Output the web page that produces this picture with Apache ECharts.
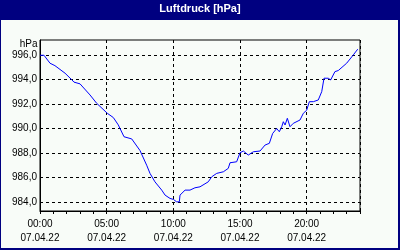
<!DOCTYPE html>
<html>
<head>
<meta charset="utf-8">
<script src="https://cdn.jsdelivr.net/npm/echarts@6/dist/echarts.min.js"></script>
<style>html,body{margin:0;padding:0;background:#000080;}#c{width:400px;height:250px;}</style>
</head>
<body>
<div id="c"></div>
<script>
var title = 'Luftdruck [hPa]';
var unit = 'hPa';
var hours = [0, 0.3, 0.75, 0.88, 1.12, 1.88, 2.38, 2.55, 3.0, 3.75, 4.25, 5.05, 5.5, 5.87, 6.3, 6.88, 7.5, 8.0, 8.25, 8.62, 9.13, 9.38, 9.75, 10.0, 10.25, 10.45, 10.5, 10.88, 11.25, 11.62, 12.0, 12.62, 12.88, 13.25, 13.75, 14.12, 14.25, 14.75, 15.0, 15.25, 15.62, 16.0, 16.5, 16.88, 17.2, 17.45, 17.75, 17.95, 18.13, 18.25, 18.38, 18.55, 18.75, 19.0, 19.5, 19.75, 20.0, 20.2, 20.5, 20.87, 21.13, 21.3, 21.62, 21.8, 22.12, 22.37, 23.0, 23.5, 23.83];
var pressure = [996.0, 996.0, 995.35, 995.2, 995.15, 994.53, 994.0, 993.8, 993.66, 992.75, 992.07, 991.25, 990.9, 990.3, 989.33, 989.15, 988.2, 987.0, 986.33, 985.64, 984.96, 984.55, 984.28, 984.2, 984.0, 984.0, 984.55, 984.96, 984.96, 985.15, 985.23, 985.64, 986.05, 986.33, 986.46, 986.74, 987.2, 987.28, 988.02, 988.16, 987.83, 988.1, 988.16, 988.65, 988.79, 989.6, 990.0, 989.74, 990.15, 990.56, 990.29, 990.84, 990.15, 990.43, 990.7, 991.25, 991.5, 992.2, 992.2, 992.34, 993.02, 994.12, 994.12, 993.98, 994.66, 994.75, 995.35, 996.03, 996.5];
var xTickHours = [0, 5, 10, 15, 20];
var xTickDate = '07.04.22';
var yTicks = [984, 986, 988, 990, 992, 994, 996];

var font = 'Liberation Sans, Arial, sans-serif';
var chart = echarts.init(document.getElementById('c'), null, {renderer: 'canvas'});
var data = hours.map(function (h, i) { return [h, pressure[i]]; });
function pad(n) { return (n < 10 ? '0' : '') + n; }

chart.setOption({
  animation: false,
  backgroundColor: '#000080',
  graphic: [
    {type: 'rect', z: -10, shape: {x: 1, y: 20, width: 397, height: 228}, style: {fill: '#f8fcf8'}},
    {type: 'text', z: 10, x: 200, y: 9, style: {text: title, fill: '#ffffff', font: 'bold 11px ' + font, align: 'center', verticalAlign: 'middle'}},
    {type: 'text', z: 10, x: 37.5, y: 44.5, style: {text: unit, fill: '#000', font: '10px ' + font, align: 'right', verticalAlign: 'middle'}}
  ],
  grid: {left: 40, right: 40, top: 40, bottom: 39, show: true, borderColor: '#000', borderWidth: 1, backgroundColor: '#f8fcf8'},
  xAxis: [{
    type: 'value', min: 0, max: 24, interval: 5,
    axisLine: {show: true, lineStyle: {color: '#000', width: 1}},
    axisTick: {show: false},
    axisLabel: {customValues: xTickHours, color: '#000', fontFamily: font, fontSize: 10, lineHeight: 14, margin: 6,
      formatter: function (v) { return pad(v) + ':00\n' + xTickDate; }},
    splitLine: {show: true, lineStyle: {color: '#000', type: [3, 3], width: 1}}
  }, {
    type: 'value', min: 0, max: 24, interval: 1, position: 'bottom',
    axisLine: {show: false},
    axisTick: {show: true, length: 3, lineStyle: {color: '#000'}},
    axisLabel: {show: false},
    splitLine: {show: false}
  }],
  yAxis: {
    type: 'value', min: 983.25, max: 997.25,
    axisLine: {show: true, lineStyle: {color: '#000', width: 1}},
    axisTick: {show: false, customValues: yTicks},
    axisLabel: {customValues: yTicks, color: '#000', fontFamily: font, fontSize: 10, margin: 3,
      formatter: function (v) { return v.toFixed(1).replace('.', ','); }},
    splitLine: {show: true, lineStyle: {color: '#000', type: [3, 3], width: 1}}
  },
  series: [{
    type: 'line', data: data, showSymbol: false, symbol: 'none',
    lineStyle: {color: '#0000ff', width: 1}, z: 5
  }]
});
</script>
</body>
</html>
